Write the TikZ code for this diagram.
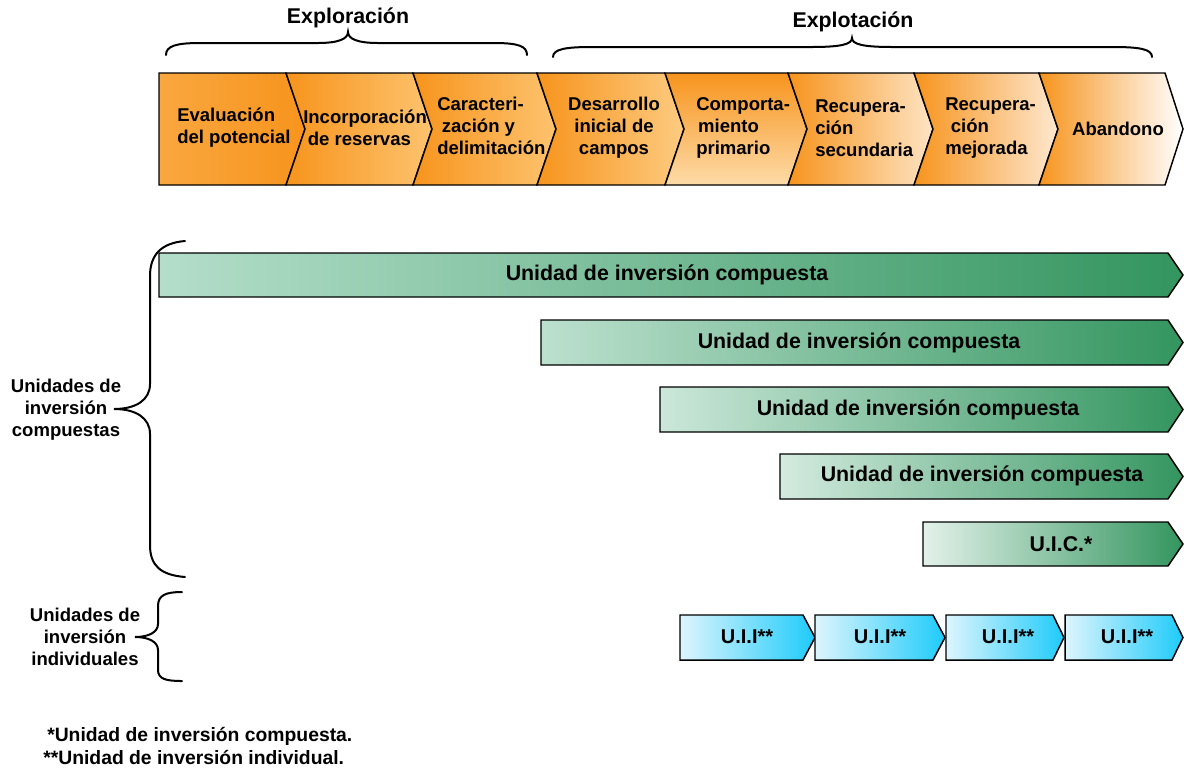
\documentclass[tikz,border=0pt]{standalone}
\usepackage{fontspec}
\setmainfont{Liberation Sans}
\definecolor{org}{HTML}{F7941D}
\definecolor{orgA}{HTML}{F9A73F}
\definecolor{orgL}{HTML}{FDC36E}
\definecolor{orgL2}{HTML}{FDCB80}
\definecolor{orgL3}{HTML}{FDDBA8}
\definecolor{orgL4}{HTML}{FEE4C4}
\definecolor{orgL5}{HTML}{FEE8CF}
\definecolor{grD}{HTML}{33955F}
\definecolor{grM}{HTML}{A2CFB8}
\definecolor{grL}{HTML}{B4DECA}
\definecolor{grL2}{HTML}{BCE0CE}
\definecolor{grL3}{HTML}{CBE7D9}
\definecolor{grL4}{HTML}{D4EBDF}
\definecolor{grL5}{HTML}{E3F1EA}
\definecolor{cyD}{HTML}{1ECBFA}
\definecolor{cyL}{HTML}{DDF5FD}
\tikzset{
  chev/.style={draw=black, line width=1.1pt, line join=miter},
  barshape/.style={draw=black, line width=1.1pt, line join=miter},
  brc/.style={draw=black, line width=1.5pt, line cap=round},
  ctext/.style={font=\bfseries\fontsize{13.9}{16.5}\selectfont, inner sep=0pt},
  btext/.style={font=\bfseries\fontsize{16}{18}\selectfont, inner sep=0pt},
  utext/.style={font=\bfseries\fontsize{15}{18}\selectfont, inner sep=0pt},
  htext/.style={font=\bfseries\fontsize{16}{18}\selectfont, inner sep=0pt},
  ltext/.style={font=\bfseries\fontsize{13.9}{16.5}\selectfont, inner sep=0pt, align=center},
  ftext/.style={font=\bfseries\fontsize{14.5}{16}\selectfont, inner sep=0pt, anchor=west}
}
\begin{document}
\begin{tikzpicture}[x=0.75pt,y=-0.75pt]
\useasboundingbox (0,0) rectangle (1184,769);

% ---------- chevrons ----------
\shadedraw[chev, left color=orgA, right color=org]
  (159,73)--(286,73)--(305,129)--(286,185)--(159,185)--cycle;
\shadedraw[chev, left color=org, right color=orgL]
  (286,73)--(413,73)--(432,129)--(413,185)--(286,185)--(305,129)--cycle;
\shadedraw[chev, left color=org, right color=orgL]
  (413,73)--(537,73)--(556,129)--(537,185)--(413,185)--(432,129)--cycle;
\shadedraw[chev, left color=org, right color=orgL2]
  (537,73)--(665,73)--(684,129)--(665,185)--(537,185)--(556,129)--cycle;
\shadedraw[chev, top color=org, bottom color=orgL3]
  (665,73)--(788,73)--(807,129)--(788,185)--(665,185)--(684,129)--cycle;
\shadedraw[chev, left color=org, right color=orgL4]
  (788,73)--(914,73)--(933,129)--(914,185)--(788,185)--(807,129)--cycle;
\shadedraw[chev, left color=org, right color=orgL5]
  (914,73)--(1039,73)--(1058,129)--(1039,185)--(914,185)--(933,129)--cycle;
\shadedraw[chev, left color=org, right color=white]
  (1039,73)--(1165,73)--(1183,129)--(1165,185)--(1039,185)--(1058,129)--cycle;

\node[ctext, align=left, anchor=west] (c1) at (177,128) {Evaluación\\del potencial};
\node[ctext, align=left, anchor=west] (c2) at (303,128) {Incorporación\\\hspace{0.25em}de reservas};
\node[ctext, align=left, anchor=west] (c3) at (437,126) {Caracteri-\\\hspace{0.25em}zación y\\delimitación};
\node[ctext, align=center] (c4) at (614,128) {Desarrollo\\inicial de\\campos};
\node[ctext, align=left, anchor=west] (c5) at (696,128) {Comporta-\\\hspace{0.1em}miento\\primario};
\node[ctext, align=left, anchor=west] (c6) at (815,128) {Recupera-\\ción\\secundaria};
\node[ctext, align=left, anchor=west] (c7) at (945,128) {Recupera-\\\hspace{0.3em}ción\\mejorada};
\node[ctext] (c8) at (1118,129) {Abandono};

% ---------- top braces ----------
\draw[brc] (166,55) .. controls (166,46) and (176,43) .. (200,43) -- (318,43)
  .. controls (338,43) and (348,39) .. (348,32)
  .. controls (348,39) and (358,43) .. (378,43) -- (494,43)
  .. controls (518,43) and (527,46) .. (527,55);
\node[htext] (explor) at (348,18) {Exploración};

\draw[brc] (553,57) .. controls (553,49) and (566,47) .. (592,47) -- (812,47)
  .. controls (842,47) and (852,44) .. (852,38)
  .. controls (852,44) and (862,47) .. (892,47) -- (1113,47)
  .. controls (1139,47) and (1152,49) .. (1152,57);
\node[htext] (explot) at (853,22) {Explotación};

% ---------- green bars ----------
\shadedraw[barshape, left color=grL, middle color=grM, right color=grD]
  (159,253)--(1168,253)--(1183,275)--(1168,297)--(159,297)--cycle;
\node[btext] (b1) at (667,275) {Unidad de inversión compuesta};

\shadedraw[barshape, left color=grL2, right color=grD]
  (541,320)--(1168,320)--(1183,342.5)--(1168,365)--(541,365)--cycle;
\node[btext] (b2) at (859,343) {Unidad de inversión compuesta};

\shadedraw[barshape, left color=grL3, right color=grD]
  (660,387)--(1168,387)--(1183,409.5)--(1168,432)--(660,432)--cycle;
\node[btext] (b3) at (918,410) {Unidad de inversión compuesta};

\shadedraw[barshape, left color=grL4, right color=grD]
  (780,454)--(1168,454)--(1183,476.5)--(1168,499)--(780,499)--cycle;
\node[btext] (b4) at (982,476) {Unidad de inversión compuesta};

\shadedraw[barshape, left color=grL5, right color=grD]
  (923,522)--(1168,522)--(1183,544)--(1168,566)--(923,566)--cycle;
\node[btext] (b5) at (1061,544) {U.I.C.*};

% ---------- blue arrows ----------
\shadedraw[barshape, left color=cyL, right color=cyD]
  (680,615)--(803,615)--(815,637.5)--(803,660)--(680,660)--cycle;
\node[utext] (u1) at (747,637) {U.I.I**};
\shadedraw[barshape, left color=cyL, right color=cyD]
  (815,615)--(933,615)--(945,637.5)--(933,660)--(815,660)--cycle;
\node[utext] (u2) at (880,637) {U.I.I**};
\shadedraw[barshape, left color=cyL, right color=cyD]
  (946,615)--(1053,615)--(1064,637.5)--(1053,660)--(946,660)--cycle;
\node[utext] (u3) at (1008,637) {U.I.I**};
\shadedraw[barshape, left color=cyL, right color=cyD]
  (1065,615)--(1172,615)--(1183,637.5)--(1172,660)--(1065,660)--cycle;
\node[utext] (u4) at (1127,637) {U.I.I**};

% ---------- left braces ----------
\draw[brc] (185,241) .. controls (161,243) and (150,255) .. (150,276) -- (150,384)
  .. controls (150,400) and (136,409) .. (114,409)
  .. controls (136,409) and (150,418) .. (150,434) -- (150,545)
  .. controls (150,566) and (161,575) .. (185,577);
\node[ltext] (lc) at (66,410) {Unidades de\\inversión\\compuestas};

\draw[brc] (182,592) .. controls (166,592) and (158,595) .. (158,606) -- (158,624)
  .. controls (158,632) and (149,637) .. (135,637)
  .. controls (149,637) and (158,642) .. (158,650) -- (158,670)
  .. controls (158,679) and (166,681) .. (182,681);
\node[ltext] (li) at (85,637) {Unidades de\\inversión\\individuales};

% ---------- footnotes ----------
\node[ftext] (f1) at (47,736) {*Unidad de inversión compuesta.};
\node[ftext] (f2) at (43,757) {**Unidad de inversión individual.};
\end{tikzpicture}
\end{document}
